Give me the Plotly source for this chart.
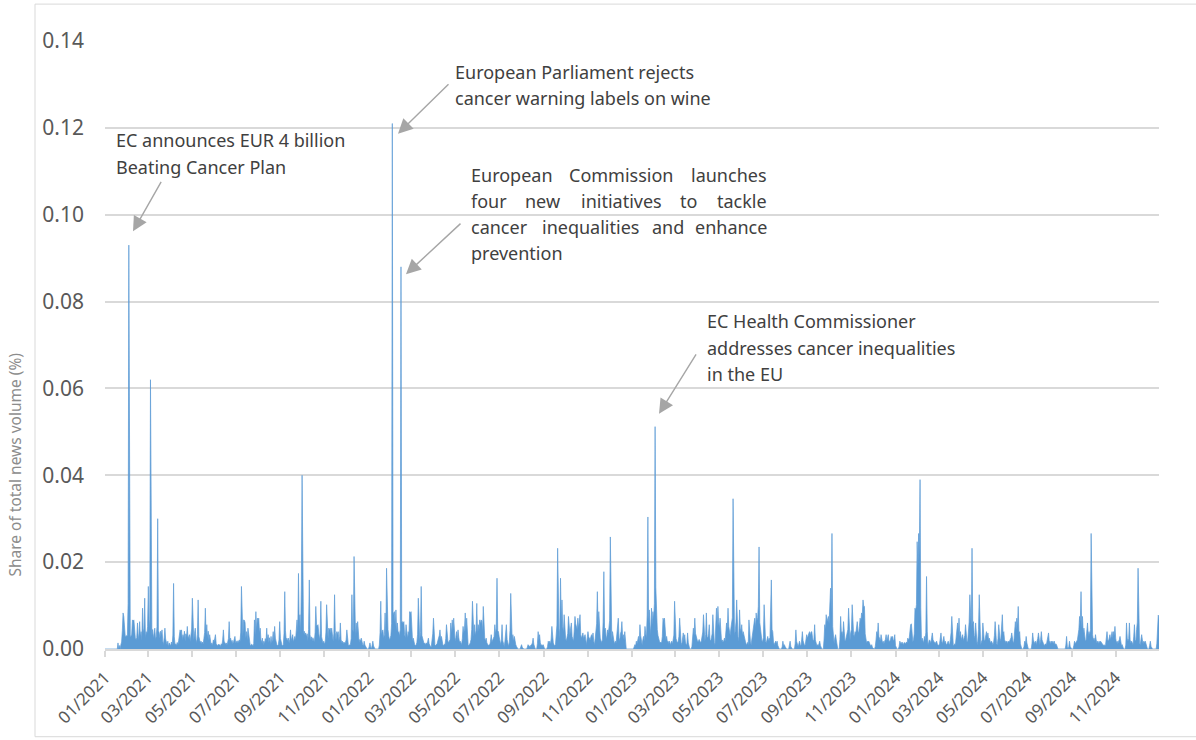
import pandas as pd
import plotly.graph_objects as go

# ---------------- data (share of total news volume, %, daily) ----------------
# one inner list per month, Jan..Dec
values_2021 = [
    [0, 0, 0, 0, 0, 0, 0, 0, 0, 0, 0, 0, 0, 0, 0, 0, 0, 0, 0.0014, 0, 0.0008, 0, 0.001, 0.0016, 0.0042, 0.0083, 0.0075, 0.0035, 0.003, 0.0029, 0.0031],
    [0.003, 0.0105, 0.093, 0.0031, 0.003, 0.0029, 0.0034, 0.0067, 0.0065, 0.0067, 0.003, 0.0025, 0.0022, 0.0026, 0.006, 0.0021, 0.0035, 0.0063, 0.0028, 0.004, 0.0019, 0.0094, 0.0036, 0.0048, 0.0117, 0.0025, 0.004, 0.0032],
    [0.0052, 0.0144, 0.0068, 0.0048, 0.062, 0.0075, 0.0031, 0.0045, 0.0024, 0.0036, 0.0048, 0.0022, 0.0029, 0.0051, 0.030, 0.0042, 0.0038, 0.0025, 0.0041, 0.0033, 0.0044, 0.0018, 0.001, 0.0026, 0.0048, 0.0023, 0.0012, 0.0009, 0.0018, 0.0005, 0.0014],
    [0.0011, 0.0007, 0.0016, 0.0009, 0.0032, 0.0151, 0.0028, 0.001, 0.0012, 0.0008, 0.0015, 0.001, 0.0019, 0.0028, 0.0044, 0.0039, 0.0044, 0.0021, 0.0033, 0.0025, 0.0041, 0.0018, 0.0035, 0.0029, 0.0052, 0.0024, 0.0031, 0.0033, 0.0017, 0.0028],
    [0.0046, 0.0117, 0.0032, 0.0021, 0.0036, 0.0048, 0.0022, 0.0014, 0.0033, 0.0113, 0.0029, 0.0015, 0.0014, 0.0018, 0.0012, 0.0016, 0.0011, 0.0024, 0.0038, 0.0094, 0.0031, 0.0056, 0.0025, 0.0041, 0.002, 0.0033, 0.0019, 0.0009, 0.0014, 0.0008, 0.0021],
    [0.0016, 0.0024, 0.0033, 0.0012, 0.001, 0.0007, 0.0011, 0.0009, 0.001, 0.0006, 0.0012, 0.0009, 0.0021, 0.0044, 0.0018, 0.0014, 0.0011, 0.0014, 0.0009, 0.0016, 0.0024, 0.0063, 0.0022, 0.0025, 0.0015, 0.002, 0.0012, 0.0016, 0.0021, 0.0029],
    [0.0013, 0.0018, 0.0019, 0.0014, 0.0018, 0.0021, 0.0016, 0.0039, 0.0144, 0.0035, 0.0029, 0.0067, 0.0066, 0.0061, 0.0025, 0.004, 0.0021, 0.0048, 0.0031, 0.0012, 0.001, 0.0008, 0.0011, 0.001, 0.0007, 0.0012, 0.0067, 0.0031, 0.0086, 0.0042, 0.0071],
    [0.0068, 0.0071, 0.0036, 0.0048, 0.0022, 0.0015, 0.0025, 0.001, 0.0018, 0.0012, 0.0024, 0.0016, 0.0048, 0.0021, 0.0033, 0.0015, 0.0026, 0.001, 0.0029, 0.0014, 0.0022, 0.004, 0.0019, 0.0052, 0.0025, 0.0012, 0.001, 0.0008, 0.001, 0.0021, 0.0063],
    [0.0024, 0.0013, 0.001, 0.0007, 0.001, 0.0036, 0.0132, 0.0042, 0.0021, 0.0025, 0.0018, 0.0025, 0.0014, 0.0022, 0.0044, 0.0019, 0.0027, 0.0033, 0.0016, 0.0024, 0.0029, 0.0021, 0.0045, 0.0067, 0.0038, 0.0174, 0.0052, 0.0079, 0.0036, 0.0147],
    [0.040, 0.0062, 0.0035, 0.0041, 0.0033, 0.0037, 0.0028, 0.0035, 0.0019, 0.0045, 0.0159, 0.0033, 0.0021, 0.0028, 0.0018, 0.0026, 0.0022, 0.0016, 0.0038, 0.0098, 0.0056, 0.0052, 0.0056, 0.0044, 0.0021, 0.0035, 0.011, 0.0028, 0.0015, 0.0013, 0.0018],
    [0.0011, 0.0016, 0.0039, 0.0102, 0.0031, 0.0024, 0.0048, 0.0043, 0.0048, 0.0036, 0.0048, 0.0021, 0.0018, 0.0035, 0.0125, 0.0038, 0.0021, 0.004, 0.0033, 0.004, 0.0019, 0.0028, 0.006, 0.0022, 0.0015, 0.0018, 0.0011, 0.0016, 0.0013, 0.0015],
    [0.0021, 0.0044, 0.0017, 0.001, 0.0008, 0.001, 0.0011, 0.0024, 0.0125, 0.0046, 0.0038, 0.0213, 0.0041, 0.0029, 0.006, 0.0036, 0.0063, 0.0025, 0.0015, 0.0022, 0.0018, 0.0025, 0.0015, 0.001, 0.0008, 0.0018, 0.0009, 0.0006, 0, 0, 0],
]
values_2022 = [
    [0, 0.0006, 0.0014, 0.0005, 0, 0.0008, 0.0018, 0.0007, 0, 0, 0, 0, 0, 0, 0, 0.0009, 0.0038, 0.011, 0.0032, 0.0041, 0.0044, 0.0025, 0.0033, 0.0083, 0.0022, 0.0186, 0.009, 0.0045, 0.003, 0.0021, 0.0025],
    [0.0031, 0.0058, 0.121, 0.0086, 0.0079, 0.0086, 0.0052, 0.009, 0.0041, 0.006, 0.0037, 0.004, 0.0029, 0.0045, 0.088, 0.0063, 0.0063, 0.0058, 0.0063, 0.0033, 0.0026, 0.0056, 0.0031, 0.0024, 0.004, 0.0029, 0.0086, 0.0082],
    [0.0086, 0.0031, 0.0018, 0.0025, 0.0012, 0.001, 0.0008, 0.001, 0.0015, 0.0034, 0.0117, 0.0029, 0.0021, 0.0038, 0.0144, 0.0031, 0.0025, 0.0016, 0.0012, 0.0014, 0.0009, 0.0014, 0.0011, 0.0018, 0.0025, 0.0012, 0.0006, 0.0005, 0.0006, 0.0021, 0.0035],
    [0.0071, 0.0022, 0.001, 0.0008, 0.001, 0.0012, 0.0019, 0.0025, 0.0031, 0.0044, 0.0023, 0.0029, 0.0015, 0.001, 0.0008, 0.0011, 0.001, 0.0024, 0.0056, 0.0031, 0.0018, 0.0015, 0.0018, 0.0022, 0.006, 0.0035, 0.0067, 0.0042, 0.0071, 0.0039],
    [0.0018, 0.0026, 0.004, 0.0021, 0.0044, 0.0027, 0.0016, 0.0018, 0.0012, 0.001, 0.0024, 0.0052, 0.0036, 0.0048, 0.0083, 0.0041, 0.0071, 0.0026, 0.001, 0.0008, 0.001, 0.0014, 0.0022, 0.0045, 0.011, 0.0038, 0.0029, 0.0056, 0.0031, 0.0042, 0.0105],
    [0.0035, 0.0056, 0.0041, 0.0067, 0.0058, 0.0067, 0.0064, 0.0038, 0.0098, 0.0032, 0.0025, 0.0018, 0.0025, 0.0014, 0.001, 0.0008, 0.001, 0.0009, 0.0018, 0.0033, 0.0016, 0.0021, 0.0025, 0.0029, 0.0056, 0.0034, 0.0048, 0.0163, 0.0042, 0.004],
    [0.0028, 0.0014, 0.001, 0.0021, 0.0056, 0.0019, 0.0012, 0.0006, 0.0018, 0.0031, 0.0056, 0.0022, 0.001, 0.0006, 0.0015, 0.0043, 0.0128, 0.0038, 0.0021, 0.0033, 0.0018, 0.0029, 0.0014, 0.001, 0.0006, 0, 0, 0, 0, 0, 0.0005],
    [0.001, 0.0004, 0, 0, 0, 0, 0, 0, 0.0004, 0.001, 0.0007, 0.0006, 0.0006, 0.0009, 0.001, 0.0014, 0.0025, 0.0011, 0, 0, 0, 0, 0.0013, 0.004, 0.0019, 0.0033, 0.0015, 0.0008, 0.001, 0.0007, 0.001],
    [0.0004, 0, 0, 0, 0, 0.0006, 0.0018, 0.0012, 0.0018, 0.0011, 0.0023, 0.0052, 0.0021, 0.0014, 0.001, 0.0008, 0.001, 0.0029, 0.0055, 0.0232, 0.0045, 0.0025, 0.0048, 0.0163, 0.0062, 0.0113, 0.0052, 0.0038, 0.0079, 0.0031],
    [0.0025, 0.0018, 0.0029, 0.0036, 0.0075, 0.0041, 0.0033, 0.0048, 0.006, 0.0029, 0.0025, 0.0018, 0.0044, 0.0075, 0.0058, 0.0052, 0.0045, 0.0071, 0.0048, 0.0062, 0.0079, 0.0033, 0.0025, 0.0031, 0.0037, 0.0024, 0.0029, 0.0033, 0.0021, 0.001, 0.0026],
    [0.004, 0.0028, 0.0021, 0.0021, 0.0028, 0.0033, 0.0026, 0.0037, 0.0018, 0.001, 0.0024, 0.0041, 0.0058, 0.0132, 0.0051, 0.0086, 0.0035, 0.0025, 0.0019, 0.0015, 0.0021, 0.0062, 0.0178, 0.0045, 0.0048, 0.0031, 0.0022, 0.0044, 0.0036, 0.0048],
    [0.0065, 0.0258, 0.0052, 0.0021, 0.004, 0.0018, 0.0018, 0.0012, 0.0018, 0.0014, 0.0029, 0.0045, 0.0071, 0.0026, 0.0018, 0.0035, 0.0041, 0.0063, 0.0028, 0.0033, 0.0021, 0.004, 0.0014, 0, 0, 0, 0, 0, 0, 0, 0],
]
values_2023 = [
    [0, 0, 0, 0.0005, 0.001, 0.0007, 0.0018, 0.0012, 0.0022, 0.0029, 0.0016, 0.0056, 0.0031, 0.0018, 0.001, 0.0021, 0.0029, 0.0018, 0.0052, 0.0035, 0.0025, 0.0078, 0.0304, 0.0063, 0.009, 0.0055, 0.0033, 0.0094, 0.0056, 0.0086, 0.0068],
    [0.0105, 0.0512, 0.0142, 0.0081, 0.0045, 0.0031, 0.0022, 0.0018, 0.0014, 0.0016, 0.0014, 0.0029, 0.0071, 0.0063, 0.0071, 0.0038, 0.0021, 0.0029, 0.0016, 0.0018, 0.0012, 0.0018, 0.0009, 0.0014, 0.0018, 0.0011, 0.0018, 0.0032],
    [0.011, 0.0031, 0.0024, 0.0018, 0.0014, 0.0018, 0.0029, 0.0071, 0.0026, 0.0015, 0.001, 0.0021, 0.0037, 0.0018, 0.0033, 0.0016, 0.001, 0.0012, 0.0037, 0.0014, 0.0004, 0, 0, 0, 0.0006, 0.0025, 0.0048, 0.0031, 0.0071, 0.0036, 0.0029],
    [0.0021, 0.0016, 0.0018, 0.0022, 0.0018, 0.0015, 0.0018, 0.0026, 0.0039, 0.0079, 0.0031, 0.0018, 0.0033, 0.0083, 0.0029, 0.0025, 0.0035, 0.0056, 0.0022, 0.0018, 0.0026, 0.0035, 0.0079, 0.0028, 0.0015, 0.001, 0.0041, 0.0094, 0.0052, 0.0098],
    [0.0063, 0.0048, 0.0071, 0.0029, 0.0018, 0.0021, 0.0016, 0.0018, 0.0025, 0.0018, 0.0033, 0.006, 0.0045, 0.0094, 0.0052, 0.004, 0.0031, 0.0048, 0.0056, 0.0072, 0.0346, 0.0088, 0.0033, 0.0041, 0.0062, 0.0113, 0.0035, 0.0018, 0.0029, 0.009, 0.0048],
    [0.0041, 0.0056, 0.0032, 0.004, 0.0029, 0.0025, 0.0018, 0.0012, 0.001, 0.0015, 0.001, 0.0067, 0.0026, 0.0018, 0.001, 0.0021, 0.0029, 0.004, 0.0052, 0.0071, 0.0048, 0.0083, 0.0065, 0.0072, 0.0098, 0.0235, 0.0061, 0.004, 0.0025, 0.0018],
    [0.0018, 0.0026, 0.0102, 0.0031, 0.0018, 0.0014, 0.0021, 0.0029, 0.0018, 0.0025, 0.0018, 0.0071, 0.0159, 0.0045, 0.004, 0.0016, 0.001, 0.0014, 0.0018, 0.0012, 0.0018, 0.0008, 0, 0, 0, 0, 0, 0.0005, 0.0018, 0.0008, 0.001],
    [0.0006, 0, 0, 0, 0, 0, 0.0009, 0.0018, 0.0006, 0, 0, 0, 0, 0, 0.0012, 0.0044, 0.0018, 0.001, 0.0006, 0.0011, 0.0018, 0.001, 0.0007, 0.0021, 0.004, 0.0019, 0.0014, 0.0008, 0.001, 0.0021, 0.0033],
    [0.0025, 0.0033, 0.0036, 0.004, 0.0031, 0.0039, 0.004, 0.0027, 0.0018, 0.0022, 0.0056, 0.0021, 0.001, 0.0008, 0.001, 0.0007, 0.0012, 0.0018, 0.0008, 0, 0, 0, 0, 0.0021, 0.0056, 0.0045, 0.0079, 0.0062, 0.0068, 0.0075],
    [0.0058, 0.014, 0.014, 0.0082, 0.0266, 0.0052, 0.0018, 0.0012, 0.0026, 0.0033, 0.0021, 0.0006, 0, 0, 0, 0.0022, 0.0075, 0.0036, 0.004, 0.0029, 0.0063, 0.0041, 0.0018, 0.0021, 0.0028, 0.0033, 0.0045, 0.0094, 0.0036, 0.0021, 0.0038],
    [0.0045, 0.0102, 0.0041, 0.0033, 0.0029, 0.004, 0.0035, 0.0048, 0.0063, 0.0041, 0.0037, 0.0052, 0.0071, 0.0062, 0.0083, 0.0079, 0.0113, 0.0098, 0.0098, 0.0035, 0.0018, 0.0014, 0.0018, 0.0016, 0.0018, 0.0012, 0.0009, 0.0007, 0.001, 0.0004],
    [0, 0, 0, 0.0006, 0.0021, 0.004, 0.0031, 0.006, 0.0029, 0.0025, 0.0018, 0.0033, 0.0021, 0.0014, 0.0018, 0.0012, 0.0018, 0.0022, 0.0033, 0.0019, 0.0026, 0.0033, 0.0016, 0.0018, 0.0021, 0.0029, 0.0026, 0.0029, 0.0018, 0.0022, 0.0033],
]
values_2024 = [
    [0.0008, 0, 0, 0, 0, 0.0006, 0.0018, 0.0014, 0.0012, 0.0016, 0.0014, 0.001, 0.0015, 0.0014, 0.0012, 0.0016, 0.0013, 0.0025, 0.0021, 0.0025, 0.0056, 0.0056, 0.0058, 0.0018, 0.0016, 0.0022, 0.0035, 0.0094, 0.0088, 0.0102, 0.0247],
    [0.0185, 0.0266, 0.0215, 0.039, 0.0095, 0.0018, 0.0025, 0.0018, 0.0014, 0.0029, 0.0021, 0.0038, 0.0167, 0.0041, 0.001, 0.0015, 0.0021, 0.0018, 0.0014, 0.0026, 0.0037, 0.0021, 0.0018, 0.0014, 0.0012, 0.0016, 0.0018, 0.0011, 0.001],
    [0.0008, 0.0012, 0.0021, 0.0037, 0.0018, 0.0012, 0.0021, 0.0029, 0.0014, 0.0018, 0.0012, 0.0009, 0.0014, 0.0018, 0.0012, 0.001, 0.0022, 0.0038, 0.0075, 0.0021, 0.001, 0.0008, 0.0012, 0.001, 0.0025, 0.0033, 0.006, 0.0036, 0.0071, 0.0029, 0.004],
    [0.0021, 0.0025, 0.0033, 0.0019, 0.0025, 0.0031, 0.0056, 0.0022, 0.0016, 0.0018, 0.0035, 0.0062, 0.0125, 0.0079, 0.0045, 0.0232, 0.0058, 0.0063, 0.0031, 0.0025, 0.006, 0.0021, 0.001, 0.0018, 0.0045, 0.0125, 0.0029, 0.001, 0.0016, 0.0021],
    [0.006, 0.0028, 0.0018, 0.0021, 0.0029, 0.004, 0.0026, 0.0037, 0.0021, 0.0025, 0.0018, 0.0014, 0.0018, 0.0012, 0.001, 0.0016, 0.0031, 0.0063, 0.0022, 0.0012, 0.001, 0.0024, 0.0056, 0.0031, 0.0018, 0.0025, 0.0045, 0.0079, 0.0033, 0.004, 0.0021],
    [0.0018, 0.0015, 0.0018, 0.0012, 0.0018, 0.0016, 0.0018, 0.0021, 0.0026, 0.0037, 0.0022, 0.0014, 0.0018, 0.0038, 0.0063, 0.0045, 0.0071, 0.0052, 0.0098, 0.0036, 0.004, 0.0012, 0, 0, 0, 0, 0.0006, 0.0018, 0.0012, 0.0029],
    [0.0014, 0.0006, 0, 0, 0, 0, 0, 0.0012, 0.0037, 0.0021, 0.0018, 0.0012, 0.0018, 0.0009, 0.0018, 0.0024, 0.0037, 0.0016, 0.001, 0.0022, 0.004, 0.0021, 0.0018, 0.0012, 0.0008, 0.001, 0.0012, 0.001, 0.0018, 0.0021, 0.0037],
    [0.0015, 0.0018, 0.0011, 0.0018, 0.0014, 0.0018, 0.0012, 0.0018, 0.0009, 0.0012, 0.001, 0.0004, 0, 0, 0, 0, 0, 0, 0, 0, 0, 0, 0, 0.0009, 0.0029, 0.0006, 0, 0.0005, 0.0018, 0.0006, 0],
    [0, 0, 0, 0.0008, 0.0018, 0.0012, 0.0014, 0.0018, 0.0021, 0.0033, 0.0045, 0.0075, 0.0062, 0.0132, 0.0048, 0.0075, 0.0036, 0.0048, 0.0025, 0.0018, 0.0021, 0.0038, 0.006, 0.0029, 0.004, 0.0031, 0.0045, 0.0266, 0.0052, 0.0033],
    [0.0021, 0.0025, 0.0018, 0.0033, 0.0021, 0.0014, 0.0018, 0.0012, 0.0018, 0.0014, 0.0018, 0.0016, 0.0012, 0.001, 0.0008, 0.001, 0.0007, 0.001, 0.0022, 0.004, 0.0021, 0.0018, 0.0025, 0.0033, 0.0021, 0.0029, 0.004, 0.0025, 0.004, 0.0031, 0.0052],
    [0.0025, 0.0014, 0.0018, 0.0012, 0.0018, 0.0021, 0.0029, 0.0014, 0.0008, 0.001, 0.0004, 0, 0, 0, 0.0009, 0.006, 0.0025, 0.0018, 0.0024, 0.006, 0.0021, 0.0014, 0.0018, 0.0012, 0.001, 0.0028, 0.0056, 0.0021, 0.0018, 0.0045],
    [0.0062, 0.0186, 0.0041, 0.0014, 0.001, 0.0018, 0.0033, 0.0021, 0.0012, 0.0018, 0.0014, 0.0018, 0.0009, 0.0004, 0, 0, 0, 0.0008, 0.0018, 0.0006, 0, 0, 0, 0, 0, 0, 0, 0.0012, 0.0075, 0.0078, 0.0072],
]
years = [2021, 2022, 2023, 2024]
y_ticks = [0.00, 0.02, 0.04, 0.06, 0.08, 0.10, 0.12, 0.14]
y_title = "Share of total news volume (%)"

annotation_lines = [
    "EC announces EUR 4 billion", "Beating Cancer Plan",
    "European Parliament rejects", "cancer warning labels on wine",
    "EC Health Commissioner", "addresses cancer inequalities", "in the EU",
]
justified_lines = [
    ["European", "Commission", "launches"],
    ["four", "new", "initiatives", "to", "tackle"],
    ["cancer", "inequalities", "and", "enhance"],
    ["prevention"],
]

# ---------------- build series ----------------
dates, values = [], []
for yr, months in zip(years, [values_2021, values_2022, values_2023, values_2024]):
    for m, vals in enumerate(months, start=1):
        start = pd.Timestamp(yr, m, 1)
        ndays = start.days_in_month
        if len(vals) != ndays:
            raise ValueError(f"{yr}-{m:02d}: {len(vals)} values, expected {ndays}")
        dates.extend(pd.date_range(start, periods=ndays, freq="D"))
        values.extend(vals)

W, H = 1196, 740
L, R, T, B = 105, 37, 41, 89
PW, PH = W - L - R, H - T - B


def px(xp, yp):
    return (xp - L) / PW, (H - B - yp) / PH


FONT = "Noto Sans"
BLUE = "#5B9BD5"
TXT = "#404040"

fig = go.Figure()
fig.add_trace(go.Scatter(
    x=dates, y=values, mode="lines", fill="tozeroy",
    line=dict(color=BLUE, width=0.7), fillcolor=BLUE,
    hoverinfo="x+y", showlegend=False,
))

annos = []
# plain text lines
line_pos = [(114, 140), (114, 167), (453, 72), (453, 98), (705, 322), (705, 349), (705, 375)]
for t, (xp, yp) in zip(annotation_lines, line_pos):
    xa, ya = px(xp, yp)
    annos.append(dict(text=t, x=xa, y=ya, xref="paper", yref="paper", xanchor="left",
                      yanchor="middle", showarrow=False, font=dict(family=FONT, size=18, color=TXT)))

# justified block
j_left, j_right = 469, 769
j_y = [175, 202, 228, 254]
j_centers = [
    [None, 621, None],
    [None, 542, 621, 688, None],
    [None, 590, 668, None],
    [None],
]
for words, centers, yp in zip(justified_lines, j_centers, j_y):
    for i, (wd, c) in enumerate(zip(words, centers)):
        if i == 0:
            xp, anc = j_left, "left"
        elif i == len(words) - 1:
            xp, anc = j_right, "right"
        else:
            xp, anc = c, "center"
        xa, ya = px(xp, yp)
        annos.append(dict(text=wd, x=xa, y=ya, xref="paper", yref="paper", xanchor=anc,
                          yanchor="middle", showarrow=False, font=dict(family=FONT, size=18, color=TXT)))

# arrows (tip, tail) in pixels
arrows = [((133, 232), (162, 181)), ((398, 134), (450, 83)), ((406, 275), (462, 223)), ((659, 415), (697, 354))]
for (tx, ty), (sx, sy) in arrows:
    xa, ya = px(tx, ty)
    annos.append(dict(text="", x=xa, y=ya, xref="paper", yref="paper", showarrow=True,
                      ax=sx - tx, ay=sy - ty, arrowhead=2, arrowsize=2.1, arrowwidth=1.4,
                      arrowcolor="#A6A6A6", standoff=0))

# y axis title
xa, ya = px(15, 466)
annos.append(dict(text=y_title, x=xa, y=ya, xref="paper", yref="paper", textangle=-90,
                  showarrow=False, xanchor="center", yanchor="middle",
                  font=dict(family=FONT, size=15.5, color="#8C8C8C")))

# chart border
x0, y0 = px(35, 4)
x1, y1 = px(1210, 739)

fig.update_layout(
    width=W, height=H,
    margin=dict(l=L, r=R, t=T, b=B, pad=0),
    paper_bgcolor="white", plot_bgcolor="white",
    font=dict(family=FONT, color="#595959"),
    annotations=annos,
    shapes=[dict(type="rect", xref="paper", yref="paper", x0=x0, y0=y1, x1=x1, y1=y0,
                 line=dict(color="#D9D9D9", width=1), layer="below")],
    xaxis=dict(
        type="date", range=[dates[0], dates[-1]],
        tick0="2021-01-01", dtick="M2", tickformat="%m/%Y", tickangle=-45,
        ticks="outside", ticklen=6, tickwidth=1.5, tickcolor="#D9D9D9",
        showline=True, linecolor="#D9D9D9", linewidth=2,
        showgrid=False, zeroline=False, ticklabelstandoff=4,
        tickfont=dict(family=FONT, size=17, color="#595959"),
    ),
    yaxis=dict(
        range=[0, 0.14], tickvals=y_ticks, tickformat=".2f",
        showgrid=True, gridcolor="#D9D9D9", gridwidth=1.5,
        zeroline=False, showline=False, ticks="",
        ticklabelstandoff=20,
        tickfont=dict(family=FONT, size=21, color="#595959"),
    ),
)

fig.write_html("out.html", config={"displayModeBar": False},
               post_script="document.body.style.margin='0';document.body.style.overflow='hidden';")
